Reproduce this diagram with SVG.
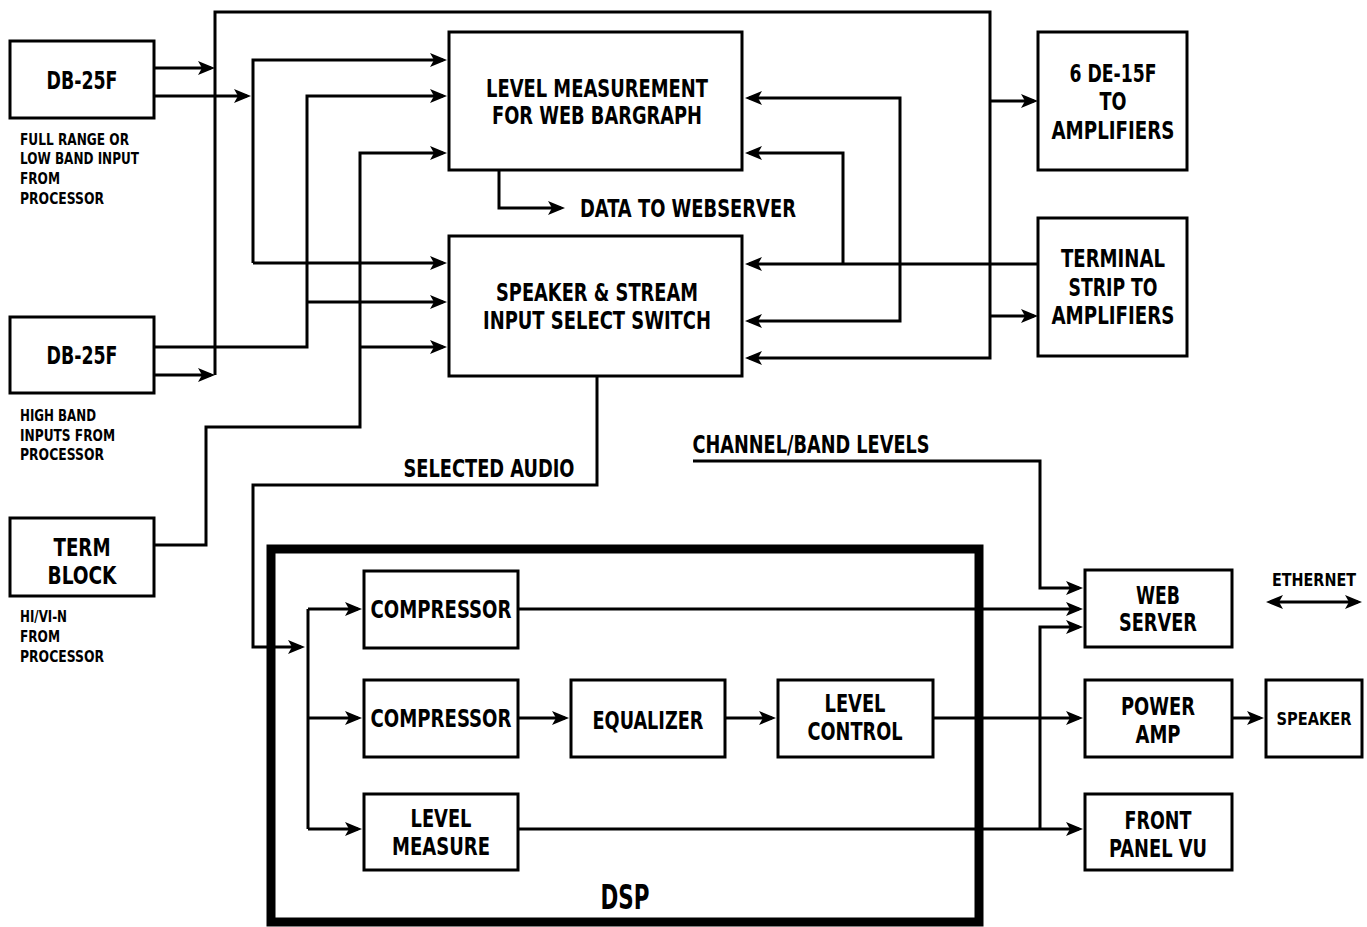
<svg xmlns="http://www.w3.org/2000/svg" width="1367" height="927" viewBox="0 0 1367 927">
<style>
.box{fill:#fff;stroke:#000;stroke-width:3}
.dsp{fill:none;stroke:#000;stroke-width:9}
.ln{fill:none;stroke:#000;stroke-width:3}
.a{marker-end:url(#arr)}
text{font-family:"Liberation Sans Narrow","DejaVu Sans Condensed","Liberation Sans",sans-serif;font-weight:bold;fill:#000}
.t{font-size:24.5px;text-anchor:middle}
.s{font-size:16px;text-anchor:start}
.m{font-size:18px;text-anchor:middle}
</style>
<defs>
<marker id="arr" viewBox="0 0 17 14" refX="13" refY="7" markerWidth="17" markerHeight="14" markerUnits="userSpaceOnUse" orient="auto-start-reverse">
<path d="M0,0 L17,7 L0,14 L4,7 z" fill="#000"/>
</marker>
</defs>
<rect width="1367" height="927" fill="#fff"/>

<g id="connectors">
<path class="ln a" d="M154,68 H211"/>
<path class="ln a" d="M154,96 H247"/>
<path class="ln a" d="M154,375 H211"/>
<path class="ln a" d="M215,375 V12 H990 V358 H749"/>
<path class="ln a" d="M990,101 H1034"/>
<path class="ln a" d="M990,316 H1034"/>
<path class="ln a" d="M253,263 V60 H443"/>
<path class="ln a" d="M253,263 H443"/>
<path class="ln a" d="M154,347 H307 V96 H443"/>
<path class="ln a" d="M307,302 H443"/>
<path class="ln a" d="M154,545 H206 V427 H360 V153 H443"/>
<path class="ln a" d="M360,347 H443"/>
<path class="ln a" d="M499,170 V208 H561"/>
<path class="ln a" d="M1038,264 H749"/>
<path class="ln a" d="M843,264 V153 H749"/>
<path class="ln a" d="M749,98 H900 V321 H749" marker-start="url(#arr)"/>
<path class="ln a" d="M597,376 V485 H253 V647 H301"/>
<path class="ln" d="M308,609 V829"/>
<path class="ln a" d="M308,609 H358"/>
<path class="ln a" d="M308,718 H358"/>
<path class="ln a" d="M308,829 H358"/>
<path class="ln a" d="M518,609 H1079"/>
<path class="ln a" d="M518,718 H565"/>
<path class="ln a" d="M725,718 H772"/>
<path class="ln a" d="M933,718 H1079"/>
<path class="ln a" d="M518,829 H1079"/>
<path class="ln a" d="M1040,829 V627 H1079"/>
<path class="ln a" d="M693,461 H1040 V588 H1079"/>
<path class="ln a" d="M1232,718 H1260"/>
<path class="ln a" d="M1270,602 H1358" marker-start="url(#arr)"/>
</g>

<g id="db25f-1">
<rect class="box" x="10" y="41" width="144" height="77"/>
<text class="t" x="82" y="89" textLength="71" lengthAdjust="spacingAndGlyphs">DB-25F</text>
<text class="s" x="20" y="145" textLength="109" lengthAdjust="spacingAndGlyphs">FULL RANGE OR</text>
<text class="s" x="20" y="164" textLength="119" lengthAdjust="spacingAndGlyphs">LOW BAND INPUT</text>
<text class="s" x="20" y="184" textLength="40" lengthAdjust="spacingAndGlyphs">FROM</text>
<text class="s" x="20" y="204" textLength="84" lengthAdjust="spacingAndGlyphs">PROCESSOR</text>
</g>

<g id="db25f-2">
<rect class="box" x="10" y="317" width="144" height="76"/>
<text class="t" x="82" y="364" textLength="71" lengthAdjust="spacingAndGlyphs">DB-25F</text>
<text class="s" x="20" y="421" textLength="76" lengthAdjust="spacingAndGlyphs">HIGH BAND</text>
<text class="s" x="20" y="441" textLength="95" lengthAdjust="spacingAndGlyphs">INPUTS FROM</text>
<text class="s" x="20" y="460" textLength="84" lengthAdjust="spacingAndGlyphs">PROCESSOR</text>
</g>

<g id="term-block">
<rect class="box" x="10" y="518" width="144" height="78"/>
<text class="t" x="82" y="556" textLength="57" lengthAdjust="spacingAndGlyphs">TERM</text>
<text class="t" x="82" y="584" textLength="69" lengthAdjust="spacingAndGlyphs">BLOCK</text>
<text class="s" x="20" y="622" textLength="47" lengthAdjust="spacingAndGlyphs">HI/VI-N</text>
<text class="s" x="20" y="642" textLength="40" lengthAdjust="spacingAndGlyphs">FROM</text>
<text class="s" x="20" y="662" textLength="84" lengthAdjust="spacingAndGlyphs">PROCESSOR</text>
</g>

<g id="level-measurement">
<rect class="box" x="449" y="32" width="293" height="138"/>
<text class="t" x="597" y="97" textLength="222" lengthAdjust="spacingAndGlyphs">LEVEL MEASUREMENT</text>
<text class="t" x="597" y="124" textLength="210" lengthAdjust="spacingAndGlyphs">FOR WEB BARGRAPH</text>
</g>

<g id="data-label">
<text class="t" x="688" y="217" textLength="216" lengthAdjust="spacingAndGlyphs">DATA TO WEBSERVER</text>
</g>

<g id="select-switch">
<rect class="box" x="449" y="236" width="293" height="140"/>
<text class="t" x="597" y="301" textLength="202" lengthAdjust="spacingAndGlyphs">SPEAKER &amp; STREAM</text>
<text class="t" x="597" y="329" textLength="228" lengthAdjust="spacingAndGlyphs">INPUT SELECT SWITCH</text>
</g>

<g id="de15f">
<rect class="box" x="1038" y="32" width="149" height="138"/>
<text class="t" x="1113" y="82" textLength="87" lengthAdjust="spacingAndGlyphs">6 DE-15F</text>
<text class="t" x="1113" y="110" textLength="27" lengthAdjust="spacingAndGlyphs">TO</text>
<text class="t" x="1113" y="139" textLength="123" lengthAdjust="spacingAndGlyphs">AMPLIFIERS</text>
</g>

<g id="terminal-strip">
<rect class="box" x="1038" y="218" width="149" height="138"/>
<text class="t" x="1113" y="267" textLength="104" lengthAdjust="spacingAndGlyphs">TERMINAL</text>
<text class="t" x="1113" y="296" textLength="89" lengthAdjust="spacingAndGlyphs">STRIP TO</text>
<text class="t" x="1113" y="324" textLength="123" lengthAdjust="spacingAndGlyphs">AMPLIFIERS</text>
</g>

<g id="labels">
<text class="t" x="489" y="477" textLength="171" lengthAdjust="spacingAndGlyphs">SELECTED AUDIO</text>
<text class="t" x="811" y="453" textLength="237" lengthAdjust="spacingAndGlyphs">CHANNEL/BAND LEVELS</text>
<text class="m" x="1314" y="586" textLength="84" lengthAdjust="spacingAndGlyphs">ETHERNET</text>
</g>

<g id="dsp">
<rect class="dsp" x="271" y="549" width="708" height="373"/>
<text class="t" x="625" y="909" style="font-size:34px" textLength="49" lengthAdjust="spacingAndGlyphs">DSP</text>
</g>

<g id="compressor-1">
<rect class="box" x="364" y="571" width="154" height="77"/>
<text class="t" x="441" y="618" textLength="141" lengthAdjust="spacingAndGlyphs">COMPRESSOR</text>
</g>

<g id="compressor-2">
<rect class="box" x="364" y="680" width="154" height="77"/>
<text class="t" x="441" y="727" textLength="141" lengthAdjust="spacingAndGlyphs">COMPRESSOR</text>
</g>

<g id="equalizer">
<rect class="box" x="571" y="680" width="154" height="77"/>
<text class="t" x="648" y="729" textLength="111" lengthAdjust="spacingAndGlyphs">EQUALIZER</text>
</g>

<g id="level-control">
<rect class="box" x="778" y="680" width="155" height="77"/>
<text class="t" x="855" y="712" textLength="61" lengthAdjust="spacingAndGlyphs">LEVEL</text>
<text class="t" x="855" y="740" textLength="95" lengthAdjust="spacingAndGlyphs">CONTROL</text>
</g>

<g id="level-measure">
<rect class="box" x="364" y="794" width="154" height="76"/>
<text class="t" x="441" y="827" textLength="61" lengthAdjust="spacingAndGlyphs">LEVEL</text>
<text class="t" x="441" y="855" textLength="98" lengthAdjust="spacingAndGlyphs">MEASURE</text>
</g>

<g id="web-server">
<rect class="box" x="1085" y="570" width="147" height="77"/>
<text class="t" x="1158" y="604" textLength="44" lengthAdjust="spacingAndGlyphs">WEB</text>
<text class="t" x="1158" y="631" textLength="78" lengthAdjust="spacingAndGlyphs">SERVER</text>
</g>

<g id="power-amp">
<rect class="box" x="1085" y="680" width="147" height="77"/>
<text class="t" x="1158" y="715" textLength="74" lengthAdjust="spacingAndGlyphs">POWER</text>
<text class="t" x="1158" y="743" textLength="45" lengthAdjust="spacingAndGlyphs">AMP</text>
</g>

<g id="speaker">
<rect class="box" x="1266" y="680" width="96" height="77"/>
<text class="m" x="1314" y="725" textLength="75" lengthAdjust="spacingAndGlyphs">SPEAKER</text>
</g>

<g id="front-panel-vu">
<rect class="box" x="1085" y="794" width="147" height="76"/>
<text class="t" x="1158" y="829" textLength="67" lengthAdjust="spacingAndGlyphs">FRONT</text>
<text class="t" x="1158" y="857" textLength="98" lengthAdjust="spacingAndGlyphs">PANEL VU</text>
</g>
</svg>
